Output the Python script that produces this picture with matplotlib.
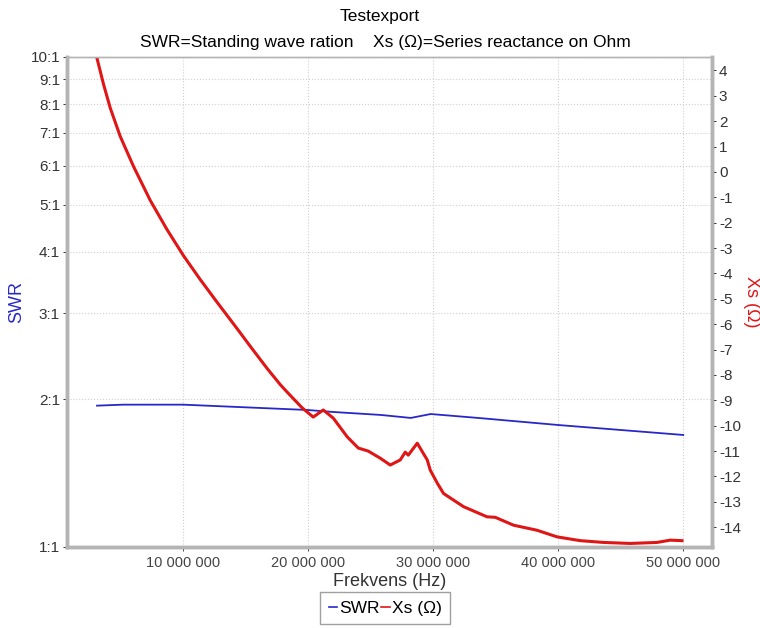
import numpy as np
import matplotlib
matplotlib.use("Agg")
import matplotlib.pyplot as plt
from matplotlib.ticker import FixedLocator, FuncFormatter, NullLocator

plt.rcParams['font.family'] = ['Liberation Sans', 'DejaVu Sans']
plt.rcParams['axes.unicode_minus'] = False

# series reactance Xs (ohm) vs frequency (MHz)
xs_freq = [3.10, 3.62, 4.16, 4.96, 6.02, 7.36, 8.70, 10.02, 11.36, 12.70, 14.30, 15.36,
           16.72, 17.76, 18.32, 19.52, 20.4, 21.2, 22.0, 23.12, 24.0, 24.8, 25.76, 26.56,
           27.36, 27.76, 28.0, 28.72, 29.52, 29.76, 30.32, 30.82, 32.42, 34.3, 34.96, 36.42,
           38.3, 39.9, 41.76, 43.62, 45.76, 47.9, 48.96, 49.9]
xs_vals = [4.48, 3.46, 2.52, 1.40, 0.22, -1.12, -2.27, -3.30, -4.24, -5.13, -6.17, -6.87,
           -7.75, -8.38, -8.68, -9.3, -9.66, -9.38, -9.70, -10.44, -10.88, -11.0, -11.28, -11.55,
           -11.35, -11.04, -11.16, -10.69, -11.35, -11.75, -12.26, -12.67, -13.19, -13.59, -13.61, -13.92,
           -14.12, -14.38, -14.53, -14.6, -14.64, -14.6, -14.51, -14.53]

# SWR vs frequency (MHz)
swr_freq = [3.10, 5.2, 10.0, 13.9, 19.9, 22.0, 25.8, 28.2, 29.8, 33.8, 40.0, 50.0]
swr_vals = [1.943, 1.952, 1.952, 1.933, 1.904, 1.886, 1.860, 1.834, 1.868, 1.832, 1.774, 1.693]

swr_ticks = [1, 2, 3, 4, 5, 6, 7, 8, 9, 10]
xs_ticks = list(range(-14, 5))
freq_ticks = [10e6, 20e6, 30e6, 40e6, 50e6]

blue = '#2828c8'
red = '#e01515'
gridcol = '#cfcfcf'
spinecol = '#b4b4b4'

fig = plt.figure(figsize=(7.6, 6.28), dpi=100)
ax = fig.add_axes([67/760, 1-547/628, 645/760, 490/628])
ax2 = ax.twinx()

l1, = ax.plot(np.array(swr_freq)*1e6, swr_vals, color=blue, lw=1.3, label='SWR')
l2, = ax2.plot(np.array(xs_freq)*1e6, xs_vals, color=red, lw=2.2, label='Xs (Ω)')

ax.set_xlim(0.7e6, 52.3e6)
ax.set_yscale('log')
ax.set_ylim(1, 10)
ax.yaxis.set_major_locator(FixedLocator(swr_ticks))
ax.yaxis.set_minor_locator(NullLocator())
ax.yaxis.set_major_formatter(FuncFormatter(lambda v, p: f"{int(round(v))}:1"))
ax.xaxis.set_major_locator(FixedLocator(freq_ticks))
ax.xaxis.set_major_formatter(FuncFormatter(lambda v, p: f"{int(v):,}".replace(",", " ")))

ax2.set_ylim(-14.78, 4.53)
ax2.yaxis.set_major_locator(FixedLocator(xs_ticks))

ax.grid(True, color=gridcol, ls=':', lw=0.8)
ax.set_axisbelow(True)

for a in (ax, ax2):
    a.tick_params(colors='#444444', labelsize=10.5, length=3, width=0.7)
    for side in ('left', 'right', 'bottom'):
        a.spines[side].set_color(spinecol)
        a.spines[side].set_linewidth(2.5)
    a.spines['top'].set_color(spinecol)
    a.spines['top'].set_linewidth(1)
ax.tick_params(axis='y', colors='#333333', labelsize=11, pad=2)
ax2.tick_params(axis='y', colors='#333333', labelsize=11, pad=2)

ax.set_xlabel('Frekvens (Hz)', fontsize=13, color='#333333', labelpad=2)
ax.set_ylabel('SWR', fontsize=13, color=blue)
ax.yaxis.set_label_coords(-0.065, 0.5)
ax2.set_ylabel('Xs (Ω)', fontsize=13, color=red, rotation=-90, va='center')
ax2.yaxis.set_label_coords(1.062, 0.5)

fig.text(0.5, 1-17/628, 'Testexport', ha='center', va='center', fontsize=12.5)
fig.text(385/760, 1-42/628, 'SWR=Standing wave ration    Xs (Ω)=Series reactance on Ohm',
         ha='center', va='center', fontsize=12.5)

leg = fig.legend(handles=[l1, l2], loc='center', bbox_to_anchor=(385/760, 1-608/628),
                 ncol=2, fontsize=12.5, frameon=True, fancybox=False, handlelength=0.5,
                 handletextpad=0.1, columnspacing=0.1, borderpad=0.5, borderaxespad=0)
leg.get_frame().set_edgecolor('#888888')
leg.get_frame().set_linewidth(1)
for ln in leg.get_lines():
    ln.set_linewidth(1.2)

fig.savefig('out.png', dpi=100)
